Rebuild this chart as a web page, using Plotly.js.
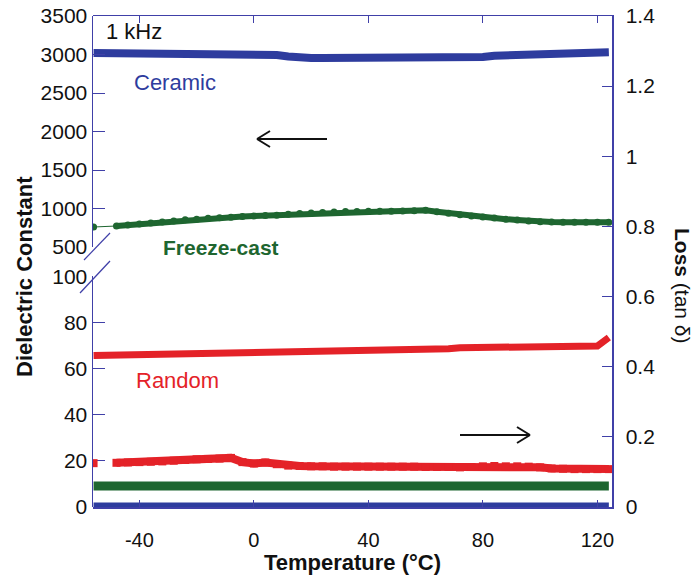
<!DOCTYPE html>
<html>
<head>
<meta charset="utf-8">
<script src="https://cdn.plot.ly/plotly-3.0.1.min.js"></script>
<style>html,body{margin:0;padding:0;background:#fff;}#chart{width:695px;height:582px;}</style>
</head>
<body>
<div id="chart"></div>
<script>
// Temperature (°C)
const temps = [-56,-52,-48,-44,-40,-36,-32,-28,-24,-20,-16,-12,-8,-4,0,4,8,12,16,20,24,28,32,36,40,44,48,52,56,60,64,68,72,76,80,84,88,92,96,100,104,108,112,116,120,124];

// Dielectric constant (upper broken segment 500-3500)
const ceramicDielectric = [3020,3020,3020,3020,3020,3020,3020,3020,3018,3018,3016,3015,3008,3000,2998,2996,2994,2975,2958,2955,2955,2955,2955,2955,2955,2955,2956,2962,2964,2965,2965,2965,2966,2966,2968,2985,2988,2986,2990,2995,3000,3005,3010,3015,3022,3030];
const freezeCastDielectric = [760,null,773,785,798,811,825,838,853,862,872,880,888,896,902,908,914,925,935,942,948,955,960,962,963,965,966,968,972,978,958,940,918,902,890,876,862,850,838,828,824,822,822,822,822,820];

// Dielectric constant (lower broken segment 0-100)
const randomDielectric = [65.7,65.8,66.0,66.1,66.2,66.3,66.4,66.5,66.5,66.5,66.6,66.6,66.6,66.7,66.7,66.8,66.8,66.9,67.0,67.6,67.7,67.7,67.8,67.8,67.8,67.8,67.9,67.9,68.0,68.0,68.1,68.6,69.1,69.1,69.1,69.2,69.2,69.3,69.6,69.6,69.6,69.6,69.7,69.7,69.8,73.5];

// Loss (tan δ)
const randomLoss = [0.125,null,0.126,0.127,0.128,0.129,0.130,0.132,0.134,0.136,0.137,0.138,0.140,0.128,0.124,0.127,0.122,0.118,0.117,0.116,0.116,0.115,0.115,0.115,0.115,0.115,0.115,0.115,0.115,0.114,0.114,0.114,0.113,0.114,0.116,0.117,0.116,0.116,0.115,0.113,0.110,0.109,0.108,0.108,0.108,0.108];
const freezeCastLoss = [0.06,0.06,0.06,0.06,0.06,0.06,0.06,0.06,0.06,0.06,0.06,0.06,0.06,0.06,0.06,0.06,0.06,0.06,0.06,0.06,0.06,0.06,0.06,0.06,0.06,0.06,0.06,0.06,0.06,0.06,0.06,0.06,0.06,0.06,0.06,0.06,0.06,0.06,0.06,0.06,0.06,0.06,0.06,0.06,0.06,0.06];
const ceramicLoss = [0.006,0.006,0.006,0.006,0.006,0.006,0.006,0.006,0.006,0.006,0.006,0.006,0.006,0.006,0.006,0.006,0.006,0.006,0.006,0.006,0.006,0.006,0.006,0.006,0.006,0.006,0.006,0.006,0.006,0.006,0.006,0.006,0.006,0.006,0.006,0.006,0.006,0.006,0.006,0.006,0.006,0.006,0.006,0.006,0.006,0.006];

const xTicks = [-40,0,40,80,120];
const xTickText = ['-40','0','40','80','120'];
const yLowTicks = [0,20,40,60,80,100];
const yHighTicks = [500,1000,1500,2000,2500,3000,3500];
const lossTicks = [0,0.2,0.4,0.6,0.8,1,1.2,1.4];

const BLUE = 'rgb(46,60,158)';
const GREEN = 'rgb(30,102,48)';
const RED = 'rgb(228,34,40)';
const AXIS = 'rgb(64,64,168)';
const FONT = 'Liberation Sans, Arial, sans-serif';

const traces = [
  {x: temps, y: ceramicLoss, xaxis:'x', yaxis:'y3', mode:'lines', line:{color:BLUE, width:5}, hoverinfo:'skip'},
  {x: temps, y: freezeCastLoss, xaxis:'x', yaxis:'y3', mode:'lines', line:{color:GREEN, width:9}, hoverinfo:'skip'},
  {x: temps, y: randomLoss, xaxis:'x', yaxis:'y3', mode:'lines+markers', line:{color:RED, width:8}, marker:{symbol:'square', size:8, color:RED}, hoverinfo:'skip'},
  {x: temps, y: randomDielectric, xaxis:'x', yaxis:'y', mode:'lines', line:{color:RED, width:7}, hoverinfo:'skip'},
  {x: [temps[0], temps[2]], y: [freezeCastDielectric[0], freezeCastDielectric[2]], xaxis:'x', yaxis:'y2', mode:'lines', line:{color:GREEN, width:1.2}, hoverinfo:'skip'},
  {x: temps, y: freezeCastDielectric, xaxis:'x', yaxis:'y2', mode:'lines+markers', line:{color:GREEN, width:6}, marker:{symbol:'circle', size:7, color:GREEN}, hoverinfo:'skip'},
  {x: temps, y: ceramicDielectric, xaxis:'x', yaxis:'y2', mode:'lines', line:{color:BLUE, width:8}, hoverinfo:'skip'}
];

const tickFont = {family: FONT, size: 21, color: '#111'};

// paper coordinate helpers (plot area 93..612 x 16..507 px)
const px = v => (v - 93) / 519;
const py = v => (507 - v) / 491;

function label(text, x, y, size, color, angle) {
  return {text: text, xref:'paper', yref:'paper', x: px(x), y: py(y), xanchor:'center', yanchor:'middle',
          textangle: angle || 0, showarrow:false, font:{family:FONT, size:size, color:color}};
}

const layout = {
  width: 695, height: 582,
  margin: {l: 93, r: 83, t: 16, b: 75},
  paper_bgcolor: '#fff',
  plot_bgcolor: 'rgba(0,0,0,0)',
  showlegend: false,
  font: {family: FONT, color: '#111'},
  xaxis: {
    range: [-56.2, 125.1], anchor: 'y3', tickvals: xTicks, ticktext: xTickText, ticks: 'inside', ticklen: 7,
    tickcolor: AXIS, showline: true, linecolor: AXIS, linewidth: 1.5, mirror: 'ticks',
    showgrid: false, zeroline: false, tickfont: {family: FONT, size: 20, color: '#111'}, ticklabelstandoff: 14,
    title: {text: '<b>Temperature (°C)</b>', font: {family: FONT, size: 22, color: '#111'}, standoff: 4}
  },
  yaxis: {
    domain: [0, 0.4695], range: [0, 100], anchor: 'x', side: 'left', tickvals: yLowTicks,
    ticks: 'inside', ticklen: 12, tickcolor: AXIS, showline: true, linecolor: AXIS, linewidth: 1.5,
    showgrid: false, zeroline: false, tickfont: tickFont
  },
  yaxis2: {
    domain: [0.5295, 1], range: [500, 3500], anchor: 'x', side: 'left', tickvals: yHighTicks,
    ticks: 'inside', ticklen: 12, tickcolor: AXIS, showline: true, linecolor: AXIS, linewidth: 1.5,
    showgrid: false, zeroline: false, tickfont: tickFont
  },
  yaxis3: {
    domain: [0, 1], range: [0, 1.4], anchor: 'x', side: 'right', tickvals: lossTicks,
    ticktext: lossTicks.map(String),
    ticks: 'inside', ticklen: 10, tickcolor: AXIS, showline: true, linecolor: AXIS, linewidth: 1.5,
    showgrid: false, zeroline: false, tickfont: tickFont, ticklabelstandoff: 8
  },
  annotations: [
    label('1 kHz', 134, 32, 22, '#111'),
    label('Ceramic', 175, 82, 22, BLUE),
    label('<b>Freeze-cast</b>', 221, 247, 21, GREEN),
    label('Random', 177, 380, 22, RED),
    label('<b>Dielectric Constant</b>', 24, 277, 22, '#111', -90),
    label('<b>Loss</b> (tan δ)', 683, 286, 21, '#111', 90)
  ],
  shapes: [
    // axis break marks
    {type:'line', xref:'paper', yref:'paper', x0: px(84), y0: py(260), x1: px(110), y1: py(233), line:{color:AXIS, width:1.2}},
    {type:'line', xref:'paper', yref:'paper', x0: px(80), y0: py(293), x1: px(110), y1: py(261), line:{color:AXIS, width:1.2}},
    // left-pointing arrow (dielectric axis)
    {type:'line', xref:'paper', yref:'paper', x0: px(257), y0: py(139), x1: px(327), y1: py(139), line:{color:'#111', width:2}},
    {type:'line', xref:'paper', yref:'paper', x0: px(257), y0: py(139), x1: px(270), y1: py(131), line:{color:'#111', width:2}},
    {type:'line', xref:'paper', yref:'paper', x0: px(257), y0: py(139), x1: px(270), y1: py(147), line:{color:'#111', width:2}},
    // right-pointing arrow (loss axis)
    {type:'line', xref:'paper', yref:'paper', x0: px(460), y0: py(435), x1: px(530), y1: py(435), line:{color:'#111', width:2}},
    {type:'line', xref:'paper', yref:'paper', x0: px(530), y0: py(435), x1: px(517), y1: py(427), line:{color:'#111', width:2}},
    {type:'line', xref:'paper', yref:'paper', x0: px(530), y0: py(435), x1: px(517), y1: py(443), line:{color:'#111', width:2}}
  ]
};

Plotly.newPlot('chart', traces, layout, {displayModeBar: false, staticPlot: true});
</script>
</body>
</html>
